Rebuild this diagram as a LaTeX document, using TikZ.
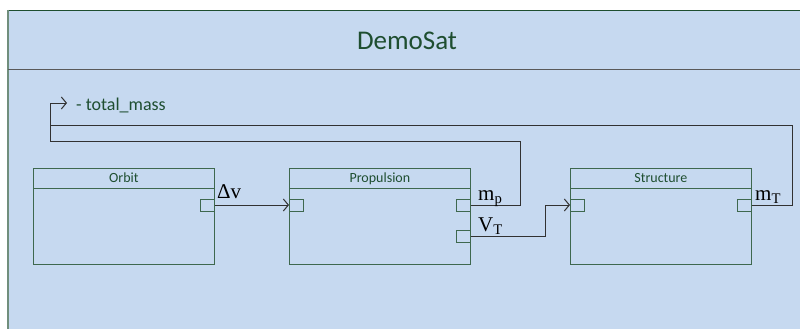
\documentclass[tikz,border=0pt]{standalone}
\usepackage{fontspec}
\setmainfont{Carlito}
\newfontfamily\labelfont{Liberation Serif}
\usetikzlibrary{arrows.meta}
\definecolor{pkgblue}{RGB}{198,217,240}
\definecolor{pkggreen}{RGB}{30,78,48}
\definecolor{blockgreen}{RGB}{62,104,78}
\definecolor{framegray}{RGB}{112,142,124}
\definecolor{wiregray}{RGB}{50,50,50}

\begin{document}
\begin{tikzpicture}[x=1pt,y=-1pt,
  block/.style={draw=blockgreen,line width=0.8pt,minimum width=181pt,minimum height=96pt,anchor=north west,inner sep=0pt},
  port/.style={draw=blockgreen,line width=0.8pt,minimum width=14pt,minimum height=12pt,inner sep=0pt},
  blocktitle/.style={text=pkggreen,font=\fontsize{14}{16}\selectfont,anchor=base},
  sig/.style={font=\labelfont\fontsize{21}{24}\selectfont,anchor=base west,inner sep=0pt},
  wire/.style={draw=wiregray,line width=1pt},
  >={Straight Barb[length=5pt,width=12pt]}]

\useasboundingbox (0,0) rectangle (800,329);

% package frame
\fill[pkgblue] (8,10) rectangle (820,340);
\draw[pkggreen,line width=0.8pt] (8,10) -- (820,10);
\draw[framegray,line width=1.6pt] (8,10) -- (8,340);
\draw[black!65,line width=0.8pt] (8,69) -- (820,69);
\node[text=pkggreen,font=\fontsize{27}{30}\selectfont,anchor=base] (demosat) at (407,50) {DemoSat};

% parts
\node[block] (orbit) at (33,168) {};
\node[block] (prop) at (289,168) {};
\node[block] (struct) at (570,168) {};
\foreach \b/\t in {orbit/Orbit,prop/Propulsion,struct/Structure}{
  \draw[blockgreen,line width=0.8pt] ([yshift=-20pt]\b.north west) -- ([yshift=-20pt]\b.north east);
  \node[blocktitle] at ([yshift=-14pt]\b.north) {\t};
}

% ports
\node[port,anchor=east] (orbitout) at ([yshift=-37pt]orbit.north east) {};
\node[port,anchor=west] (propin) at ([yshift=-37pt]prop.north west) {};
\node[port,anchor=east] (propmp) at ([yshift=-37pt]prop.north east) {};
\node[port,anchor=east] (propvt) at ([yshift=-68pt]prop.north east) {};
\node[port,anchor=west] (structin) at ([yshift=-37pt]struct.north west) {};
\node[port,anchor=east] (structout) at ([yshift=-37pt]struct.north east) {};

% value
\coordinate (massin) at (67,103);
\node[text=pkggreen,font=\fontsize{18}{20}\selectfont,anchor=base west,inner sep=0pt] (totalmass) at (76,110) {- total\_mass};

% connectors
\draw[wire,->] (orbitout.east) -- (propin.west);
\draw[wire,->] (propvt.east) -- ++(75,0) |- (structin.west);
\draw[wire,->] (propmp.east) -| (520,141) -- (50,141) |- (massin);
\draw[wire] (structout.east) -| (792,125) -- (50,125);

% signal labels
\node[sig] (dv) at (217,198) {Δv};
\node[sig] (mp) at (478,200) {m\textsubscript{p}};
\node[sig] (vt) at (478,231) {V\textsubscript{T}};
\node[sig] (mt) at (755,200) {m\textsubscript{T}};

\end{tikzpicture}
\end{document}
